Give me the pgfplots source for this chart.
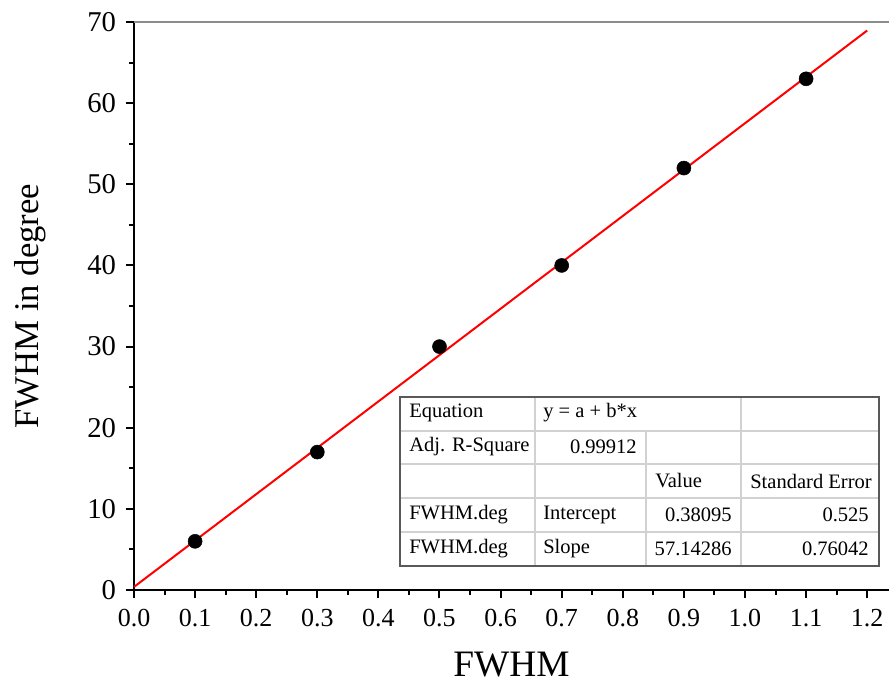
\documentclass[border=0pt]{standalone}
\usepackage{fontspec}
\setmainfont{Liberation Serif}
\usepackage{pgfplots}
\pgfplotsset{compat=1.18}

\begin{document}
\begin{tikzpicture}[x=0.75pt,y=-0.75pt]
\useasboundingbox (0,0) rectangle (889,686);
\coordinate (o) at (134,590);
\begin{axis}[
    at={(o)}, anchor=south west,
    scale only axis,
    width=566.25pt, height=426pt,
    xmin=0, xmax=1.2357,
    ymin=0, ymax=70,
    axis x line*=bottom,
    axis y line*=left,
    axis line style={line width=1.5pt, black},
    xtick={0,0.1,0.2,0.3,0.4,0.5,0.6,0.7,0.8,0.9,1.0,1.1,1.2},
    ytick={0,10,20,30,40,50,60,70},
    minor x tick num=1,
    minor y tick num=1,
    tick align=outside,
    major tick length=6pt,
    minor tick length=3.5pt,
    every tick/.style={line width=1.5pt, black},
    /pgf/number format/assume math mode=true,
    xticklabel style={font=\fontsize{19.5}{21}\selectfont, yshift=-5pt,
      /pgf/number format/.cd, fixed, fixed zerofill, precision=1},
    yticklabel style={font=\fontsize{21.5}{23}\selectfont, xshift=-4pt,
      /pgf/number format/.cd, fixed, precision=0},
    xlabel={FWHM},
    ylabel={FWHM in degree},
    xlabel style={font=\fontsize{28}{30}\selectfont,
      at={(axis description cs:0.5,-0.132)}, anchor=center},
    ylabel style={font=\fontsize{26}{28}\selectfont,
      at={(axis description cs:-0.1377,0.5)}, anchor=center},
    clip=false,
]
  % fitted line y = a + b*x
  \addplot[red, line width=1.5pt] coordinates {(0,0.38095) (1.2,68.95238)};
  % measured points
  \addplot[only marks, mark=*, mark size=5.25pt, black] coordinates {
    (0.1,6) (0.3,17) (0.5,30) (0.7,40) (0.9,52) (1.1,63)
  };
  \draw[black!45, line width=1.2pt] (rel axis cs:0,1) -- (rel axis cs:1,1);
\end{axis}

% fit result table
\fill[white] (400,397) rectangle (879,566);
\begin{scope}[black!18, line width=1.2pt]
  \draw (400,431) -- (879,431);
  \draw (400,464) -- (879,464);
  \draw (400,498) -- (879,498);
  \draw (400,532) -- (879,532);
  \draw (535,397) -- (535,566);
  \draw (646,431) -- (646,566);
  \draw (741,397) -- (741,566);
\end{scope}
\draw[black!65, line width=1.2pt] (400,397) rectangle (879,566);
\begin{scope}[every node/.style={font=\fontsize{15.4}{17}\selectfont, inner sep=0pt}]
  \node[anchor=west] at (409,413) {Equation};
  \node[anchor=west] at (543,413) {y = a + b*x};
  \node[anchor=west] at (409,447) {Adj. R-Square};
  \node[anchor=east] at (637,447) {0.99912};
  \node[anchor=west] at (655,481) {Value};
  \node[anchor=west] at (750,481) {Standard Error};
  \node[anchor=west] at (409,515) {FWHM.deg};
  \node[anchor=west] at (543,515) {Intercept};
  \node[anchor=east] at (732,515) {0.38095};
  \node[anchor=east] at (869,515) {0.525};
  \node[anchor=west] at (409,549) {FWHM.deg};
  \node[anchor=west] at (543,549) {Slope};
  \node[anchor=east] at (732,549) {57.14286};
  \node[anchor=east] at (869,549) {0.76042};
\end{scope}
\end{tikzpicture}
\end{document}
